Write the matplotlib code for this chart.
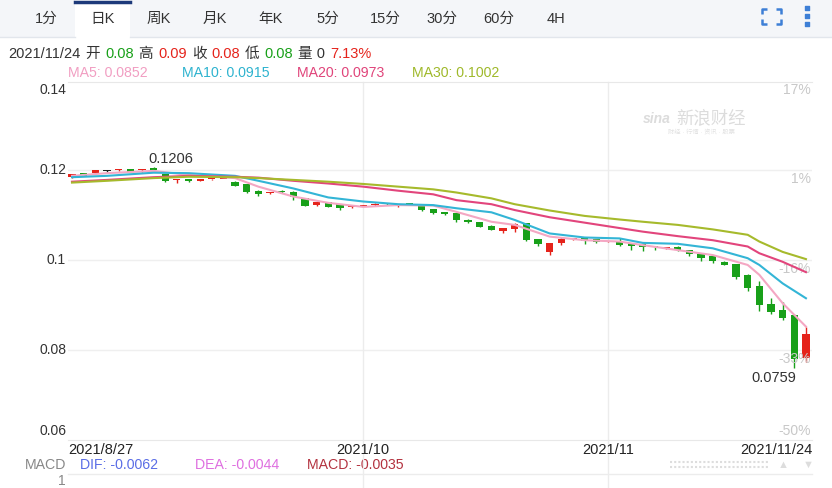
import numpy as np
import pandas as pd
import matplotlib
matplotlib.use("Agg")
import matplotlib.pyplot as plt
from matplotlib.patches import Rectangle

plt.rcParams['font.family'] = ['Liberation Sans', 'Noto Sans CJK SC', 'DejaVu Sans']

# ---- data ----
dates = pd.bdate_range("2021-08-27", "2021-11-24")

opens = [0.1185, 0.1193, 0.1193, 0.1198, 0.1199, 0.1202, 0.1199, 0.1204, 0.1191, 0.1177,
         0.1180, 0.1176, 0.1179, 0.1179, 0.1174, 0.1168, 0.1154, 0.1148, 0.1153, 0.1152,
         0.1137, 0.1122, 0.1128, 0.1124, 0.1117, 0.1120, 0.1122, 0.1125, 0.1121, 0.1125,
         0.1124, 0.1113, 0.1106, 0.1104, 0.1089, 0.1084, 0.1076, 0.1065, 0.1069, 0.1082,
         0.1046, 0.1017, 0.1037, 0.1046, 0.1048, 0.1046, 0.1041, 0.1041, 0.1037, 0.1035,
         0.1030, 0.1026, 0.1029, 0.1022, 0.1013, 0.1008, 0.0996, 0.0990, 0.0967, 0.0942,
         0.0902, 0.0889, 0.0878, 0.0782]
highs = [0.1192, 0.1194, 0.1200, 0.1201, 0.1203, 0.1203, 0.1203, 0.1206, 0.1192, 0.1180,
         0.1181, 0.1180, 0.1181, 0.1181, 0.1175, 0.1169, 0.1155, 0.1152, 0.1155, 0.1153,
         0.1138, 0.1129, 0.1129, 0.1125, 0.1120, 0.1123, 0.1126, 0.1126, 0.1123, 0.1126,
         0.1125, 0.1114, 0.1107, 0.1105, 0.1090, 0.1085, 0.1077, 0.1071, 0.1083, 0.1083,
         0.1047, 0.1038, 0.1052, 0.1049, 0.1049, 0.1047, 0.1043, 0.1048, 0.1038, 0.1036,
         0.1031, 0.1028, 0.1030, 0.1023, 0.1014, 0.1009, 0.0997, 0.0991, 0.0968, 0.0953,
         0.0915, 0.0907, 0.0879, 0.0852]
lows = [0.1183, 0.1186, 0.1192, 0.1195, 0.1197, 0.1195, 0.1196, 0.1198, 0.1174, 0.1172,
        0.1173, 0.1175, 0.1178, 0.1179, 0.1164, 0.1149, 0.1142, 0.1147, 0.1148, 0.1133,
        0.1119, 0.1119, 0.1117, 0.1111, 0.1116, 0.1119, 0.1121, 0.1123, 0.1117, 0.1123,
        0.1109, 0.1103, 0.1099, 0.1084, 0.1083, 0.1073, 0.1066, 0.1061, 0.1063, 0.1043,
        0.1030, 0.1011, 0.1033, 0.1045, 0.1036, 0.1037, 0.1040, 0.1032, 0.1022, 0.1020,
        0.1022, 0.1025, 0.1021, 0.1009, 0.0998, 0.0994, 0.0988, 0.0958, 0.0931, 0.0887,
        0.0881, 0.0866, 0.0759, 0.0774]
closes = [0.1190, 0.1187, 0.1199, 0.1198, 0.1200, 0.1196, 0.1200, 0.1199, 0.1175, 0.1178,
          0.1175, 0.1179, 0.1180, 0.1180, 0.1165, 0.1150, 0.1147, 0.1151, 0.1150, 0.1139,
          0.1120, 0.1128, 0.1118, 0.1115, 0.1118, 0.1121, 0.1125, 0.1124, 0.1122, 0.1124,
          0.1111, 0.1105, 0.1102, 0.1089, 0.1085, 0.1074, 0.1067, 0.1070, 0.1079, 0.1044,
          0.1036, 0.1037, 0.1046, 0.1048, 0.1042, 0.1039, 0.1042, 0.1033, 0.1032, 0.1028,
          0.1029, 0.1027, 0.1022, 0.1013, 0.1004, 0.0998, 0.0989, 0.0963, 0.0937, 0.0899,
          0.0885, 0.0872, 0.0780, 0.0836]

ma_idx = [0, 3, 7, 10, 14, 16, 19, 22, 25, 28, 31, 33, 36, 38, 41, 44, 47, 49, 52, 55, 58, 59, 61, 63]
ma5 = [0.1187, 0.1193, 0.1198, 0.1189, 0.1182, 0.1163, 0.1141, 0.1127, 0.1118, 0.1122, 0.1121, 0.1107,
       0.1085, 0.1078, 0.1052, 0.1044, 0.1041, 0.1033, 0.1022, 0.1011, 0.0989, 0.0967, 0.0904, 0.0852]
ma10 = [0.1184, 0.1187, 0.1194, 0.1193, 0.1187, 0.1176, 0.1159, 0.1139, 0.1130, 0.1124, 0.1122, 0.1115,
        0.1106, 0.1089, 0.1059, 0.1050, 0.1048, 0.1038, 0.1036, 0.1026, 0.1004, 0.0989, 0.0948, 0.0915]
ma20 = [0.1174, 0.1178, 0.1184, 0.1187, 0.1185, 0.1183, 0.1176, 0.1170, 0.1163, 0.1154, 0.1146, 0.1133,
        0.1124, 0.1111, 0.1095, 0.1083, 0.1071, 0.1063, 0.1053, 0.1044, 0.1030, 0.1015, 0.0996, 0.0973]
ma30 = [0.1172, 0.1176, 0.1182, 0.1185, 0.1184, 0.1182, 0.1178, 0.1174, 0.1169, 0.1163, 0.1157, 0.1150,
        0.1137, 0.1124, 0.1110, 0.1098, 0.1090, 0.1085, 0.1078, 0.1068, 0.1056, 0.1041, 0.1018, 0.1002]

price_ticks = [0.06, 0.08, 0.1, 0.12, 0.14]
price_labels = ["0.06", "0.08", "0.1", "0.12", "0.14"]
pct_labels = ["-50%", "-33%", "-16%", "1%", "17%"]

tabs = ["1分", "日K", "周K", "月K", "年K", "5分", "15分", "30分", "60分", "4H"]
volume = 0
change_pct = 7.13
dif, dea, macd = -0.0062, -0.0044, -0.0035

RED = '#e5231b'
GREEN = '#18a019'
DARK = '#333333'

# ---- figure ----
fig = plt.figure(figsize=(8.32, 4.88), dpi=100)
bg = fig.add_axes([0, 0, 1, 1])
bg.set_xlim(0, 832)
bg.set_ylim(488, 0)
bg.axis('off')

# tab bar
bg.add_patch(Rectangle((0, 0), 832, 37, color='#f4f6f9', lw=0))
bg.add_patch(Rectangle((75, 0), 55, 37, color='white', lw=0))
bg.plot([75, 130], [1.5, 1.5], color='#1d3a7a', lw=2.5)
bg.plot([0, 75], [37, 37], color='#e2e6ec', lw=1)
bg.plot([130, 832], [37, 37], color='#e2e6ec', lw=1)
tab_x = [46, 103, 159, 215, 271, 328, 385, 442, 499, 556]
for t, tx in zip(tabs, tab_x):
    bg.text(tx, 19, t, ha='center', va='center', fontsize=10.5, color=DARK)

# fullscreen + menu icons
ic = '#3d7fd6'
for cx, cy, dx, dy in [(762, 9, 1, 1), (781, 9, -1, 1), (762, 24, 1, -1), (781, 24, -1, -1)]:
    bg.plot([cx, cx, cx + 5 * dx], [cy + 5 * dy, cy, cy], color=ic, lw=1.8, solid_capstyle='butt')
bg.scatter([807, 807, 807], [8, 16, 24], s=9, marker='s', color=ic)

# info row
r = fig.canvas.get_renderer()


def chain(pieces, x, y, size, gap):
    for s, col in pieces:
        t = bg.text(x, y, s, ha='left', va='center', fontsize=size, color=col)
        bb = t.get_window_extent(renderer=r)
        x += bb.width + gap


chain([(f"{dates[-1].year}/{dates[-1].month}/{dates[-1].day}", DARK),
       ("开", DARK), (f"{opens[-1]:.2f}", GREEN),
       ("高", DARK), (f"{highs[-1]:.2f}", RED),
       ("收", DARK), (f"{closes[-1]:.2f}", RED),
       ("低", DARK), (f"{lows[-1]:.2f}", GREEN),
       (f"量 {volume}", DARK), (f"{change_pct:.2f}%", RED)], 8, 54, 10.5, 5)

ma_cols = ['#f19ec2', '#2eb3cf', '#e0447a', '#9fb92a']
line_cols = ['#f4a7c3', '#33b5d6', '#e2457c', '#a6ba2c']
for name, vals, col, mx in zip(["MA5", "MA10", "MA20", "MA30"], [ma5, ma10, ma20, ma30], ma_cols, [68, 182, 297, 412]):
    bg.text(mx, 73, f"{name}: {vals[-1]:.4f}", ha='left', va='center', fontsize=10.2, color=col)

# watermark
bg.text(643, 119, "sina", fontsize=10, fontweight='bold', style='italic', color='#dcdcdc', va='center')
bg.text(676, 118, "新浪财经", fontsize=12.5, color='#dcdcdc', va='center')
bg.text(668, 132, "财经 · 行情 · 资讯 · 股票", fontsize=4.5, color='#e2e2e2', va='center')

# MACD row
bg.text(66, 465, "MACD", ha='right', va='center', fontsize=10.2, color='#888888')
bg.text(80, 465, f"DIF: {dif:.4f}", va='center', fontsize=10.2, color='#5a6de6')
bg.text(195, 465, f"DEA: {dea:.4f}", va='center', fontsize=10.2, color='#df6fe0')
bg.text(307, 465, f"MACD: {macd:.4f}", va='center', fontsize=10.2, color='#b3323f')
bg.plot([68, 812], [474, 474], color='#ececec', lw=1)
bg.text(66, 481, "1", ha='right', va='center', fontsize=10, color='#888888')
bg.plot([670, 768], [462, 462], color='#dddddd', lw=1.5, ls=(0, (1, 1)))
bg.plot([670, 768], [467, 467], color='#dddddd', lw=1.5, ls=(0, (1, 1)))
bg.text(783, 465, "▲", ha='center', va='center', fontsize=8, color='#dddddd')
bg.text(808, 465, "▼", ha='center', va='center', fontsize=8, color='#dddddd')

# ---- main K-line axes ----
ax = fig.add_axes([68 / 832, 48 / 488, 744 / 832, 358 / 488])
ax.patch.set_alpha(0)
x = np.arange(len(closes))
ax.set_xlim(-4 / 11.65, 740 / 11.65)
ax.set_ylim(0.06, 0.06 + 358 / 4500)

for s in ['left', 'right']:
    ax.spines[s].set_visible(False)
for s in ['top', 'bottom']:
    ax.spines[s].set_color('#e8e8e8')
ax.set_xticks([])
ax.set_yticks([])

for t in price_ticks[1:-1]:
    ax.axhline(t, color='#efefef', lw=1, zorder=0)

# month boundaries, skipping one too close to the first date label
month_starts = [i for i in range(10, len(dates)) if dates[i].month != dates[i - 1].month]
for i in month_starts:
    ax.axvline(i, ymin=-48 / 358, ymax=1, color='#ececec', lw=1, clip_on=False, zorder=0)

o = np.array(opens)
c = np.array(closes)
cols = np.where(c > o, RED, np.where(c < o, GREEN, '#222222'))
ax.vlines(x, lows, highs, colors=cols, lw=1, zorder=2)
ax.bar(x, np.maximum(np.abs(c - o), 0.00022), 0.62, bottom=np.minimum(o, c), color=cols, lw=0, zorder=3)

for vals, col in zip([ma5, ma10, ma20, ma30], line_cols):
    ax.plot(ma_idx, vals, color=col, lw=1.5, zorder=4)

# high / low markers
ih = int(np.argmax(highs))
il = int(np.argmin(lows))
ax.annotate(f"{highs[ih]:.4f}", xy=(ih, highs[ih]), xytext=(-5, 1), textcoords='offset pixels',
            ha='left', va='bottom', fontsize=10.5, color=DARK)
ax.annotate(f"{lows[il]:.4f}", xy=(il, lows[il]), xytext=(2, -3), textcoords='offset pixels',
            ha='right', va='top', fontsize=10.5, color=DARK)

# y labels: prices on left, percentages on right
for k, (t, lab, pl) in enumerate(zip(price_ticks, price_labels, pct_labels)):
    if k == 0:
        va_l, dy_l, va_r, dy_r = 'bottom', 2, 'bottom', 2
    elif k == len(price_ticks) - 1:
        va_l, dy_l, va_r, dy_r = 'top', -3, 'top', -3
    else:
        va_l, dy_l, va_r, dy_r = 'center', 0, 'top', -2
    ax.annotate(lab, xy=(0, t), xycoords=('axes fraction', 'data'), xytext=(-2, dy_l),
                textcoords='offset pixels', ha='right', va=va_l, fontsize=10, color=DARK,
                annotation_clip=False)
    ax.annotate(pl, xy=(1, t), xycoords=('axes fraction', 'data'), xytext=(-1, dy_r),
                textcoords='offset pixels', ha='right', va=va_r, fontsize=10, color='#c8c8c8',
                annotation_clip=False)

# date labels
dy = -10 / 358
ax.text(0, dy, f"{dates[0].year}/{dates[0].month}/{dates[0].day}", transform=ax.transAxes,
        ha='left', va='center', fontsize=10.5, color='#222222')
for i in month_starts:
    ax.text(i, dy, f"{dates[i].year}/{dates[i].month}", transform=ax.get_xaxis_transform(),
            ha='center', va='center', fontsize=10.5, color='#222222')
ax.text(1, dy, f"{dates[-1].year}/{dates[-1].month}/{dates[-1].day}", transform=ax.transAxes,
        ha='right', va='center', fontsize=10.5, color='#222222')

fig.savefig("out.png", dpi=100)
